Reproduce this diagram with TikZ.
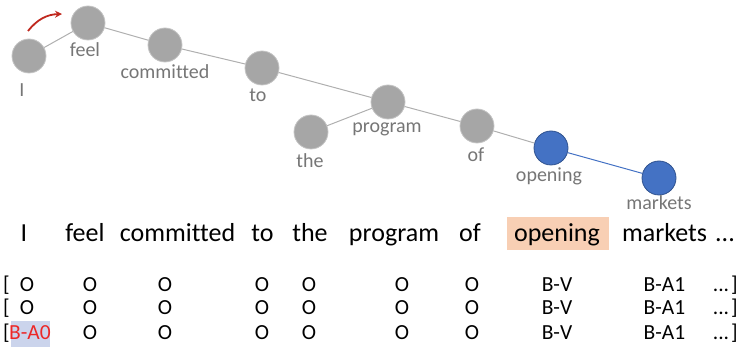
\documentclass[tikz,border=0pt]{standalone}
\usepackage{fontspec}
\setmainfont{Carlito}[Ligatures=NoCommon]
\usetikzlibrary{arrows.meta}
\definecolor{nodegray}{RGB}{166,166,166}
\definecolor{nodeborder}{RGB}{196,196,196}
\definecolor{nodeblue}{RGB}{68,114,196}
\definecolor{nodeblueborder}{RGB}{47,82,143}
\definecolor{edgegray}{RGB}{175,175,175}
\definecolor{labgray}{RGB}{118,118,118}
\definecolor{arrred}{RGB}{192,40,30}
\definecolor{peach}{RGB}{248,207,180}
\definecolor{lav}{RGB}{203,212,236}
\definecolor{tagred}{RGB}{236,40,40}
\begin{document}
\begin{tikzpicture}[x=1pt,y=-1pt,
  tok/.style={circle, minimum size=34pt, inner sep=0pt, fill=nodegray, draw=nodeborder, line width=0.8pt},
  btok/.style={tok, fill=nodeblue, draw=nodeblueborder},
  lab/.style={anchor=base, inner sep=0pt, text=labgray, font=\fontsize{20}{24}\selectfont},
  word/.style={anchor=base, inner sep=0pt, font=\fontsize{26}{30}\selectfont},
  tag/.style={anchor=base, inner sep=0pt, font=\fontsize{21.5}{25}\selectfont},
  hlbox/.style={rectangle, inner sep=0pt, draw=none},
  gedge/.style={draw=edgegray, line width=1pt},
  bedge/.style={draw=nodeblue, line width=1pt}]
\useasboundingbox (0,0) rectangle (737,347);
% highlight boxes
\node[hlbox, fill=peach, minimum width=102pt, minimum height=33pt] (hlopen) at (558,233.5) {};
\node[hlbox, fill=lav, minimum width=39pt, minimum height=27pt] (hlba) at (30.5,334.5) {};
% tree nodes
\node[tok] (nI) at (29,56) {};
\node[tok] (nfeel) at (88,23) {};
\node[tok] (ncommitted) at (165,45) {};
\node[tok] (nto) at (262,68) {};
\node[tok] (nprogram) at (388,102) {};
\node[tok] (nthe) at (311,132) {};
\node[tok] (nof) at (477,126) {};
\node[btok] (nopening) at (551,148) {};
\node[btok] (nmarkets) at (659,178) {};
% edges
\draw[gedge] (nI) -- (nfeel);
\draw[gedge] (nfeel) -- (ncommitted);
\draw[gedge] (ncommitted) -- (nto);
\draw[gedge] (nto) -- (nprogram);
\draw[gedge] (nthe) -- (nprogram);
\draw[gedge] (nprogram) -- (nof);
\draw[gedge] (nof) -- (nopening);
\draw[bedge] (nopening) -- (nmarkets);
% red arrow
\coordinate (arrS) at (28,31);
\coordinate (arrE) at (62,14);
\draw[arrred, line width=1.8pt, -{Stealth[length=7pt,width=7pt]}] (arrS) to[bend left=25] (arrE);
% tree labels
\node[lab] (lI) at (22,96.5) {I};
\node[lab] (lfeel) at (85,57) {feel};
\node[lab] (lcommitted) at (165,79) {committed};
\node[lab] (lto) at (258,101.5) {to};
\node[lab] (lthe) at (310,168) {the};
\node[lab] (lprogram) at (387,133) {program};
\node[lab] (lof) at (476,162) {of};
\node[lab] (lopening) at (549,182) {opening};
\node[lab] (lmarkets) at (659,210) {markets};
% sentence
\node[word] (wI) at (24,242) {I};
\node[word] (wfeel) at (85,242) {feel};
\node[word] (wcommitted) at (177.5,242) {committed};
\node[word] (wto) at (262.5,242) {to};
\node[word] (wthe) at (310,242) {the};
\node[word] (wprogram) at (394,242) {program};
\node[word] (wof) at (470,242) {of};
\node[word] (wopening) at (557,242) {opening};
\node[word] (wmarkets) at (664.5,242) {markets};
\node[word] (wdots) at (725,242) {...};
% tag rows
\foreach \r/\yy in {1/291.5,2/315,3/340}{
  \node[tag] (lb\r) at (6.5,\yy) {[};
  \node[tag] (t\r b) at (90,\yy) {O};
  \node[tag] (t\r c) at (165,\yy) {O};
  \node[tag] (t\r d) at (262,\yy) {O};
  \node[tag] (t\r e) at (309,\yy) {O};
  \node[tag] (t\r f) at (402,\yy) {O};
  \node[tag] (t\r g) at (472,\yy) {O};
  \node[tag] (t\r h) at (557,\yy) {B-V};
  \node[tag] (t\r i) at (664.5,\yy) {B-A1};
  \node[tag] (t\r j) at (721,\yy) {...};
  \node[tag] (rb\r) at (734.5,\yy) {]};
}
\node[tag] (t1a) at (27,291.5) {O};
\node[tag] (t2a) at (27,315) {O};
\node[tag, text=tagred] (t3a) at (30,340) {B-A0};
\end{tikzpicture}
\end{document}
